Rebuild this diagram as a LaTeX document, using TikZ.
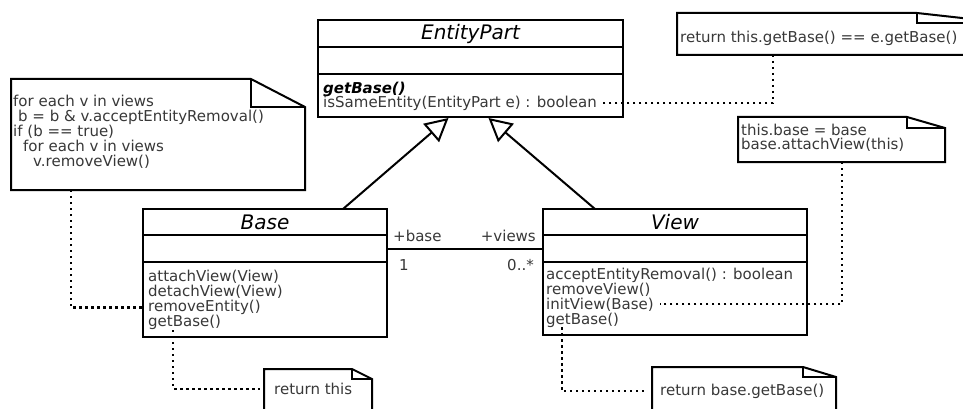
\documentclass[tikz,border=0pt]{standalone}
\usepackage{fontspec}
\setmainfont{DejaVu Sans}
\usetikzlibrary{arrows.meta, positioning}

% note with a folded corner: name, x, y, width, height, fold width, fold height
\newcommand{\umlnote}[7]{%
  \node[notebg, anchor=north west, minimum width=#4pt, minimum height=#5pt] (#1) at (#2,#3) {};
  \draw[noteline, fill=white] (#1.north west) -- ([xshift=-#6pt]#1.north east)
    -- ([yshift=-#7pt]#1.north east) -- (#1.south east) -- (#1.south west) -- cycle;
  \draw[noteline] ([xshift=-#6pt]#1.north east) |- ([yshift=-#7pt]#1.north east);
}

\begin{document}
\begin{tikzpicture}[x=1pt, y=-1pt,
  compart/.style={rectangle, draw=black, line width=2pt, inner sep=0pt,
                  outer sep=0pt, fill=white},
  classname/.style={compart, font=\fontsize{20}{22}\selectfont\itshape},
  op/.style={inner sep=0pt, anchor=base west, text=black!78,
             font=\fontsize{15}{15}\selectfont},
  notetext/.style={inner sep=0pt, anchor=north west, align=left, text=black!78,
                   font=\fontsize{15}{15}\selectfont},
  role/.style={inner sep=0pt, text=black!78, font=\fontsize{15}{15}\selectfont},
  notebg/.style={inner sep=0pt, outer sep=0pt},
  noteline/.style={line width=2pt, line join=miter},
  dotline/.style={line width=2.2pt, dash pattern=on 2.2pt off 3.8pt},
  inherit/.style={line width=2pt, -{Triangle[length=23pt, width=24pt, fill=white]}},
  assoc/.style={line width=2pt},
]
  \useasboundingbox (0,0) rectangle (963,409);
  \fill[white] (0,0) rectangle (963,409);
  \clip (0,0) rectangle (963,409);

  % notes
  \umlnote{noteremove}{11}{79}{294}{111}{54}{28}
  \umlnote{notesame}{677}{13}{330}{42}{90}{10}
  \umlnote{noteinit}{738}{117}{207}{45}{38}{11}
  \umlnote{notethis}{264}{369}{108}{60}{20}{10}
  \umlnote{notebase}{652}{367}{184}{60}{33}{10}

  \node[notetext] (noteremovetxt) at ([xshift=2pt, yshift=-15.6pt]noteremove.north west)
    {for each v in views\\\hspace*{5pt}b = b \& v.acceptEntityRemoval()\\if (b == true)\\\hspace*{10pt}for each v in views\\\hspace*{20pt}v.removeView()};
  \node[notetext] (notesametxt) at ([xshift=3pt, yshift=-18pt]notesame.north west)
    {return this.getBase() == e.getBase()};
  \node[notetext, font=\fontsize{15}{14.3}\selectfont] (noteinittxt) at ([xshift=3pt, yshift=-6.6pt]noteinit.north west)
    {this.base = base\\base.attachView(this)};
  \node[notetext] (notethistxt) at ([xshift=10pt, yshift=-13.6pt]notethis.north west) {return this};
  \node[notetext] (notebasetxt) at ([xshift=8pt, yshift=-16.6pt]notebase.north west) {return base.getBase()};

  % classes
  \node[classname, minimum width=305pt, minimum height=27pt, anchor=north west] (entity) at (318,20) {EntityPart};
  \node[compart, minimum width=305pt, minimum height=27pt, below=0pt of entity] (entityattr) {};
  \node[compart, minimum width=305pt, minimum height=43pt, below=0pt of entityattr] (entityops) {};

  \node[classname, minimum width=244pt, minimum height=26pt, anchor=north west] (base) at (143,209) {Base};
  \node[compart, minimum width=244pt, minimum height=27pt, below=0pt of base] (baseattr) {};
  \node[compart, minimum width=244pt, minimum height=75pt, below=0pt of baseattr] (baseops) {};

  \node[classname, minimum width=264pt, minimum height=26pt, anchor=north west] (view) at (543,209) {View};
  \node[compart, minimum width=264pt, minimum height=27pt, below=0pt of view] (viewattr) {};
  \node[compart, minimum width=264pt, minimum height=73pt, below=0pt of viewattr] (viewops) {};

  % operations
  \node[op, text=black, font=\fontsize{15}{15}\selectfont\bfseries\itshape] (epGetBase)
    at ([xshift=5pt, yshift=-19.5pt]entityops.north west) {getBase()};
  \node[op] (epSame) at ([yshift=-14pt]epGetBase.base west) {isSameEntity(EntityPart e) : boolean};

  \node[op] (bAttach) at ([xshift=5pt, yshift=-19.7pt]baseops.north west) {attachView(View)};
  \node[op] (bDetach) at ([yshift=-15pt]bAttach.base west) {detachView(View)};
  \node[op] (bRemove) at ([yshift=-15pt]bDetach.base west) {removeEntity()};
  \node[op] (bGetBase) at ([yshift=-15pt]bRemove.base west) {getBase()};

  \node[op] (vAccept) at ([xshift=3pt, yshift=-17pt]viewops.north west) {acceptEntityRemoval() : boolean};
  \node[op] (vRemove) at ([yshift=-15pt]vAccept.base west) {removeView()};
  \node[op] (vInit) at ([yshift=-15pt]vRemove.base west) {initView(Base)};
  \node[op] (vGetBase) at ([yshift=-15pt]vInit.base west) {getBase()};

  % relations
  \draw[inherit] ([xshift=78pt]base.north) -- ([xshift=-22pt, yshift=-1pt]entityops.south);
  \draw[inherit] ([xshift=-80pt]view.north) -- ([xshift=18pt, yshift=-1pt]entityops.south);

  \draw[assoc] (baseattr.east) -- (viewattr.west);
  \node[role, anchor=base west] (roleBase) at ([xshift=6pt, yshift=7pt]baseattr.east) {+base};
  \node[role, anchor=base west] (multBase) at ([xshift=12pt, yshift=-21.5pt]baseattr.east) {1};
  \node[role, anchor=base east] (roleViews) at ([xshift=-7pt, yshift=7pt]viewattr.west) {+views};
  \node[role, anchor=base east] (multViews) at ([xshift=-9pt, yshift=-21.5pt]viewattr.west) {0..*};

  % note links
  \draw[dotline] ([xshift=60pt]noteremove.south west) |- (baseops.west |- bRemove.west);
  \draw[dotline] ([xshift=96pt]notesame.south west) |- ([xshift=3pt]epSame.east);
  \draw[dotline] ([xshift=104pt]noteinit.south west) |- ([xshift=6pt]vInit.east);
  \draw[dotline] ([xshift=25pt]bGetBase.south west) |- ([xshift=-4pt]notethis.west |- notethistxt.west);
  \draw[dotline] ([xshift=16pt]vGetBase.south west) |- ([xshift=-4pt]notebase.west |- notebasetxt.west);
\end{tikzpicture}
\end{document}
